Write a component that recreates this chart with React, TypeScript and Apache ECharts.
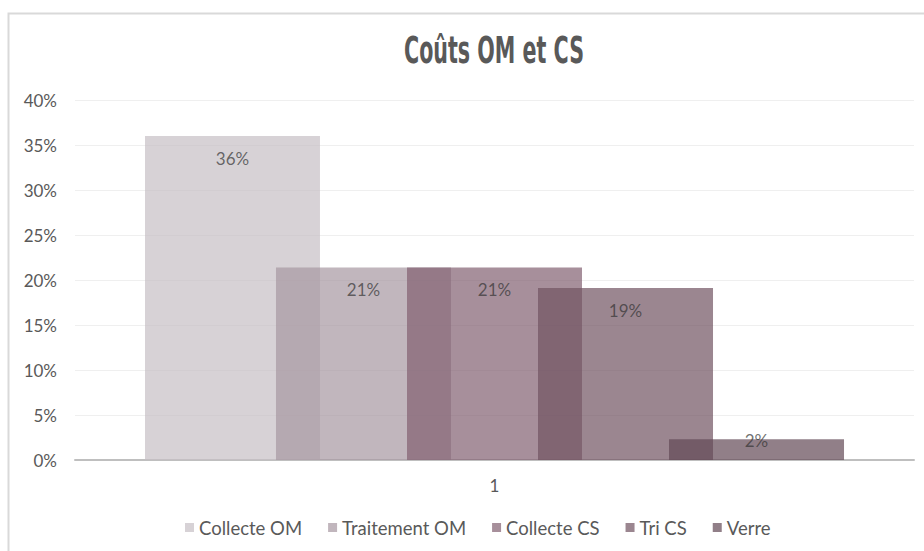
import React, { useEffect, useRef } from "react";
import * as echarts from "echarts";

const categories = ["1"];
const seriesNames = ["Collecte OM", "Traitement OM", "Collecte CS", "Tri CS", "Verre"];
const seriesValues = [0.36, 0.214, 0.214, 0.191, 0.023];
const seriesColors = [
  "rgb(198,191,196)",
  "rgb(166,151,161)",
  "rgb(129,95,112)",
  "rgb(112,82,97)",
  "rgb(98,72,85)",
];
const yMin = 0;
const yMax = 0.4;
const yInterval = 0.05;
const titleText = "Coûts OM et CS";

const FONT = "Lato";

export default function App() {
  const ref = useRef<HTMLDivElement>(null);
  useEffect(() => {
    if (!ref.current) return;
    const chart = echarts.init(ref.current, undefined, { renderer: "svg" });
    const pct = (v: number) => `${Math.round(v * 100)}%`;
    const series = seriesNames.map((name, i) => ({
      name,
      type: "bar",
      barWidth: 175,
      barGap: "-25.14%",
      itemStyle: { color: seriesColors[i], opacity: 0.7 },
      label: {
        show: true,
        position: "insideTop",
        distance: i === 4 ? -7 : 14,
        formatter: (p: any) => pct(p.value),
        color: "#333333",
        fontFamily: FONT,
        fontSize: 17,
        lineHeight: 17,
      },
      data: [seriesValues[i]],
    }));
    chart.setOption({
      animation: false,
      backgroundColor: "#ffffff",
      grid: { left: 75, right: 10, top: 100, bottom: 91, containLabel: false },
      graphic: [
        {
          type: "rect",
          shape: { x: 8.5, y: 13.5, width: 1200, height: 1200 },
          style: { fill: "none", stroke: "#d9d9d9", lineWidth: 2 },
          silent: true,
        },
        {
          type: "group",
          x: 494,
          y: 50,
          scaleX: 0.62,
          children: [
            {
              type: "text",
              x: 0,
              y: 0,
              style: {
                text: titleText,
                font: `bold 37px "Liberation Sans Narrow", "DejaVu Sans Condensed", sans-serif`,
                fill: "#595959",
                textAlign: "center",
                textVerticalAlign: "middle",
              },
            },
          ],
        },
      ],
      legend: {
        data: seriesNames,
        left: 180,
        top: 513,
        icon: "rect",
        itemWidth: 9,
        itemHeight: 9,
        itemGap: 26,
        textStyle: { color: "#595959", fontFamily: FONT, fontSize: 18.5 },
      },
      xAxis: {
        type: "category",
        data: categories,
        axisLine: { lineStyle: { color: "#bfbfbf", width: 2 } },
        axisTick: { show: false },
        axisLabel: { color: "#595959", fontFamily: FONT, fontSize: 17, margin: 17 },
      },
      yAxis: {
        type: "value",
        min: yMin,
        max: yMax,
        interval: yInterval,
        axisLine: { show: false },
        axisTick: { show: false },
        splitLine: { lineStyle: { color: "#efefef", width: 1 } },
        axisLabel: {
          color: "#595959",
          fontFamily: FONT,
          fontSize: 17,
          margin: 18,
          formatter: (v: number) => pct(v),
        },
      },
      series,
    });
    return () => chart.dispose();
  }, []);
  return (
    <div
      ref={ref}
      style={{ position: "fixed", left: 0, top: 0, width: 924, height: 551 }}
    />
  );
}
